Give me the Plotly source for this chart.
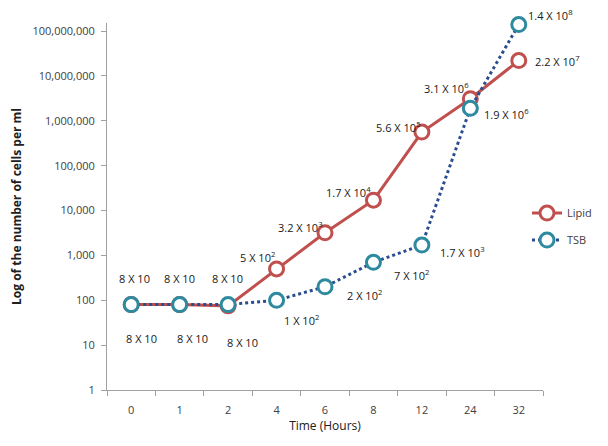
import math
import plotly.graph_objects as go

hours = ["0", "1", "2", "4", "6", "8", "12", "24", "32"]
lipid = [80, 80, 75, 500, 3200, 17000, 560000, 3100000, 22000000]
tsb = [80, 80, 80, 100, 200, 700, 1700, 1900000, 140000000]
lipid_labels = ["8 X 10", "8 X 10", "8 X 10", "5 X 10<sup>2</sup>", "3.2 X 10<sup>3</sup>",
                "1.7 X 10<sup>4</sup>", "5.6 X 10<sup>5</sup>", "3.1 X 10<sup>6</sup>", "2.2 X 10<sup>7</sup>"]
tsb_labels = ["8 X 10", "8 X 10", "8 X 10", "1 X 10<sup>2</sup>", "2 X 10<sup>2</sup>",
              "7 X 10<sup>2</sup>", "1.7 X 10<sup>3</sup>", "1.9 X 10<sup>6</sup>", "1.4 X 10<sup>8</sup>"]
y_ticks = [1, 10, 100, 1000, 10000, 100000, 1000000, 10000000, 100000000]
y_ticktext = ["1", "10", "100", "1,000", "10,000", "100,000", "1,000,000", "10,000,000", "100,000,000"]

# label offsets (pixels) relative to each point
lipid_dx = [3, 0, -1, -19, -25, -25, -23, -24, 39]
lipid_dy = [-26, -26, -27, -12, -6, -8, -5, -11, 0]
tsb_dx = [10, 13, 14, 25, 39, 38, 41, 36, 32]
tsb_dy = [34, 34, 38, 20, 8, 13, 7, 6, -10]

font_main = "Open Sans, Liberation Sans, sans-serif"
txt_color = "#404040"

fig = go.Figure()
fig.add_trace(go.Scatter(
    x=hours, y=lipid, name="Lipid", mode="lines+markers",
    line=dict(color="#c0504d", width=3),
    marker=dict(symbol="circle", size=14, color="white", line=dict(color="#c0504d", width=3)),
    cliponaxis=False, legendgroup="a",
))
fig.add_trace(go.Scatter(
    x=hours, y=tsb, name="TSB", mode="lines+markers",
    line=dict(color="#2a4d8f", width=3, dash="dot"),
    marker=dict(symbol="circle", size=14, color="white", line=dict(color="#2e8a9e", width=3)),
    cliponaxis=False, legendgroup="b",
))

annotations = []
for ys, labels, dxs, dys in [(lipid, lipid_labels, lipid_dx, lipid_dy),
                             (tsb, tsb_labels, tsb_dx, tsb_dy)]:
    for i, (y, t, dx, dy) in enumerate(zip(ys, labels, dxs, dys)):
        annotations.append(dict(
            x=i, y=math.log10(y), xref="x", yref="y", text=t, showarrow=False,
            xshift=dx, yshift=-dy, xanchor="center", yanchor="middle",
            font=dict(family=font_main, size=11, color="#202020"),
        ))

fig.update_layout(
    width=600, height=438,
    margin=dict(l=99, r=65, t=15, b=56, autoexpand=False),
    paper_bgcolor="white", plot_bgcolor="white",
    font=dict(family=font_main, size=11, color=txt_color),
    showlegend=True,
    annotations=annotations,
    legend=dict(xref="container", yref="container", x=0.865, y=0.565,
                xanchor="left", yanchor="top",
                font=dict(size=11, color=txt_color), tracegroupgap=8,
                bgcolor="rgba(0,0,0,0)", itemwidth=30),
    xaxis=dict(
        type="category", categoryorder="array", categoryarray=hours,
        range=[-0.5, len(hours) - 0.5], autorange=False, automargin=False,
        tickson="boundaries", ticks="outside", ticklen=5, ticklabelstandoff=10,
        tickcolor="#a0a0a0", showline=True, linecolor="#a0a0a0", linewidth=1,
        showgrid=False, tickfont=dict(size=11, color=txt_color),
        title=dict(text="Time (Hours)", font=dict(size=12, color="#202020"), standoff=4),
    ),
    yaxis=dict(
        type="log", range=[0, 8.18], autorange=False, automargin=False,
        tickvals=y_ticks, ticktext=y_ticktext,
        ticks="outside", ticklen=5, ticklabelstandoff=4, tickcolor="#a0a0a0", showline=True,
        linecolor="#a0a0a0", linewidth=1, showgrid=False, zeroline=False,
        tickfont=dict(size=11, color=txt_color),
        title=dict(text="<b>Log of the number of cells per ml</b>",
                   font=dict(size=12, color="#202020"), standoff=10),
    ),
)

fig.write_html("out.html")
